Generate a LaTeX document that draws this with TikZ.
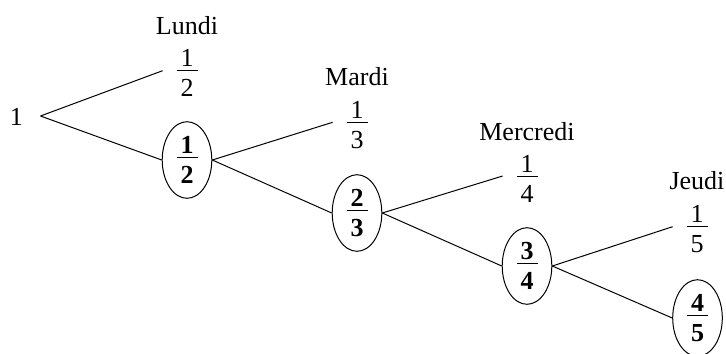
\documentclass[tikz,border=0pt]{standalone}
\usepackage{fontspec}
\setmainfont{Liberation Serif}
\usetikzlibrary{shapes.geometric}
\newcommand\myfr[2]{{\renewcommand\arraystretch{0}\setlength\tabcolsep{0pt}%
\begin{tabular}{@{\hspace{2pt}}c@{\hspace{2pt}}}\rule[-1.7pt]{0pt}{1.7pt}#1\\\hline\rule{0pt}{12.9pt}#2\end{tabular}}}
\begin{document}
\begin{tikzpicture}[x=0.5pt,y=-0.5pt,
  every node/.style={font=\fontsize{13}{15}\selectfont},
  fracnode/.style={inner xsep=6.75pt, inner ysep=0pt},
  circnode/.style={ellipse, draw, line width=0.5pt, inner sep=0pt, minimum width=24.8pt, minimum height=38.3pt},
  daynode/.style={inner sep=0pt},
  branch/.style={line width=0.5pt}]
\useasboundingbox (0,0) rectangle (726,353);
\clip (0,0) rectangle (726,353);
\node[daynode] (r) at (16.3,116.7) {1};
\coordinate (r0) at (40.5,116);
\node[daynode] (d1) at (187,25.3) {Lundi};
\node[daynode] (d2) at (357,77) {Mardi};
\node[daynode] (d3) at (527,131.5) {Mercredi};
\node[daynode] (d4) at (697,181) {Jeudi};
\node[fracnode] (f1) at (187,73.3) {\myfr{1}{2}};
\node[fracnode] (f2) at (357,124.9) {\myfr{1}{3}};
\node[fracnode] (f3) at (527,178.6) {\myfr{1}{4}};
\node[fracnode] (f4) at (697,229.3) {\myfr{1}{5}};
\node[circnode] (e1) at (187,160) {\myfr{\textbf{1}}{\textbf{2}}};
\node[circnode] (e2) at (357,213) {\myfr{\textbf{2}}{\textbf{3}}};
\node[circnode] (e3) at (527,266) {\myfr{\textbf{3}}{\textbf{4}}};
\node[circnode] (e4) at (697.5,318) {\myfr{\textbf{4}}{\textbf{5}}};
\draw[branch] (r0) -- ([yshift=1.3pt]f1.west);
\draw[branch] (r0) -- (e1.west);
\draw[branch] (e1.east) -- ([yshift=1.3pt]f2.west);
\draw[branch] (e1.east) -- (e2.west);
\draw[branch] (e2.east) -- ([yshift=1.3pt]f3.west);
\draw[branch] (e2.east) -- (e3.west);
\draw[branch] (e3.east) -- ([yshift=1.3pt]f4.west);
\draw[branch] (e3.east) -- (e4.west);
\end{tikzpicture}
\end{document}
